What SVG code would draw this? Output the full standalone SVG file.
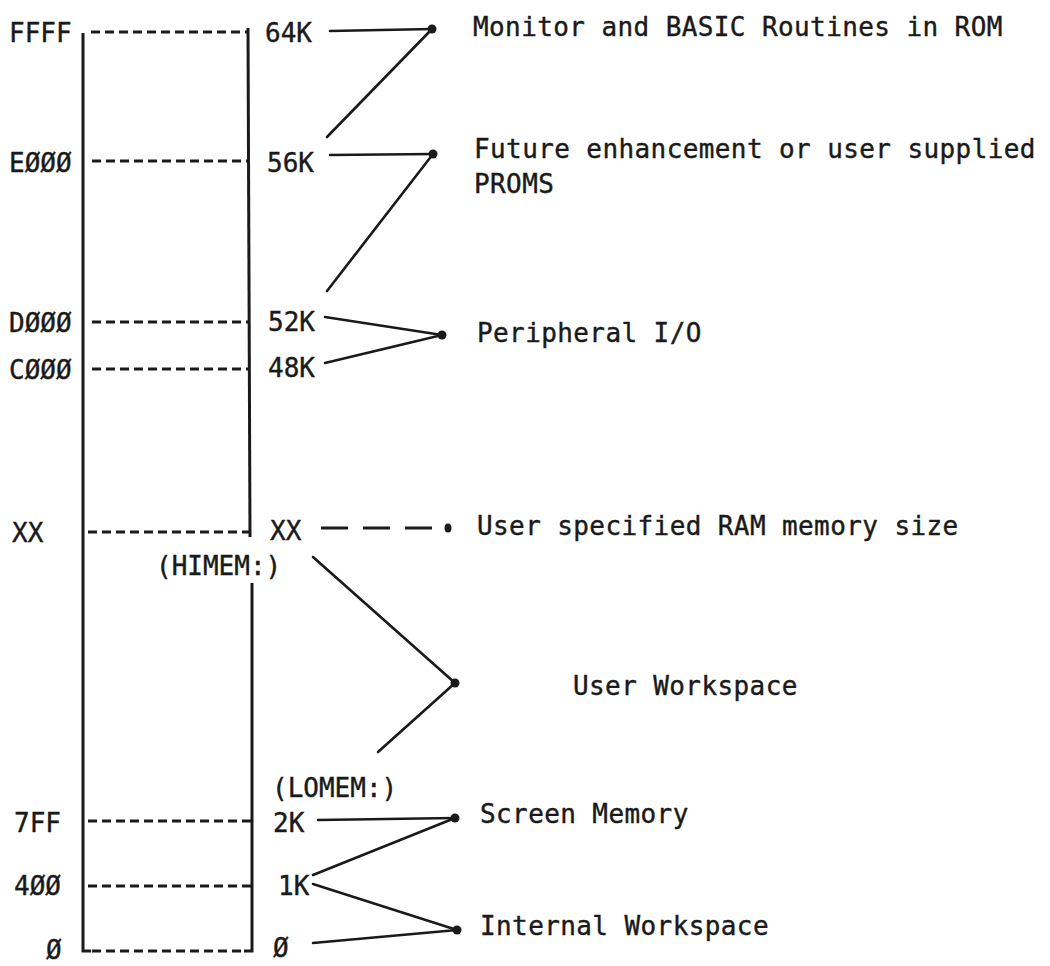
<svg xmlns="http://www.w3.org/2000/svg" width="1050" height="966" viewBox="0 0 1050 966">
<style>
text{font-family:"DejaVu Sans Mono","Liberation Mono",monospace;font-size:26px;fill:#1a1a1a;stroke:#1a1a1a;stroke-width:0.4}
.lab{letter-spacing:0.4px}
.box{stroke:#1a1a1a;stroke-width:3;fill:none}
.dash{stroke:#1a1a1a;stroke-width:3;stroke-dasharray:9 5;fill:none}
.con{stroke:#1a1a1a;stroke-width:2.6;fill:none;stroke-linecap:round}
.ldash{stroke:#1a1a1a;stroke-width:3;stroke-dasharray:27 15;fill:none}
.dot{fill:#1a1a1a}
</style>
<rect width="1050" height="966" fill="#ffffff"/>
<g id="memory-box">
<path class="box" d="M83,33 L83,951 L91,951"/>
<path class="box" d="M248,28 L250,537"/>
<path class="box" d="M252,583 L252,951 L244,951"/>
</g>
<g id="row-ffff">
<text x="9" y="42">FFFF</text>
<line class="dash" x1="91" y1="32" x2="248" y2="32"/>
<text x="265" y="42">64K</text>
</g>
<g id="row-e000">
<text x="9" y="172">EØØØ</text>
<line class="dash" x1="92" y1="161" x2="248" y2="161"/>
<text x="267" y="172">56K</text>
</g>
<g id="row-d000">
<text x="9" y="332">DØØØ</text>
<line class="dash" x1="92" y1="322" x2="248" y2="322"/>
<text x="268" y="331">52K</text>
</g>
<g id="row-c000">
<text x="9" y="379">CØØØ</text>
<line class="dash" x1="92" y1="369" x2="248" y2="369"/>
<text x="268" y="377">48K</text>
</g>
<g id="row-xx">
<text x="12" y="542">XX</text>
<line class="dash" x1="88" y1="532" x2="250" y2="532"/>
<text x="270" y="540">XX</text>
<text x="156" y="575">(HIMEM:)</text>
</g>
<g id="row-lomem">
<text x="272" y="797">(LOMEM:)</text>
</g>
<g id="row-7ff">
<text x="14" y="832">7FF</text>
<line class="dash" x1="88" y1="821" x2="252" y2="821"/>
<text x="273" y="832">2K</text>
</g>
<g id="row-400">
<text x="14" y="895">4ØØ</text>
<line class="dash" x1="88" y1="886" x2="252" y2="886"/>
<text x="278" y="895">1K</text>
</g>
<g id="row-0">
<text x="46" y="959">Ø</text>
<line class="dash" x1="92" y1="951" x2="244" y2="951"/>
<text x="273" y="957">Ø</text>
</g>
<g id="label-rom"><text class="lab" x="473" y="36">Monitor and BASIC Routines in ROM</text></g>
<g id="label-proms"><text class="lab" x="474" y="158">Future enhancement or user supplied</text><text class="lab" x="474" y="193">PROMS</text></g>
<g id="label-io"><text class="lab" x="477" y="342">Peripheral I/O</text></g>
<g id="label-ram"><text class="lab" x="477" y="535">User specified RAM memory size</text></g>
<g id="label-user"><text class="lab" x="573" y="695">User Workspace</text></g>
<g id="label-screen"><text class="lab" x="480" y="823">Screen Memory</text></g>
<g id="label-internal"><text class="lab" x="480" y="935">Internal Workspace</text></g>
<g id="connectors">
<line class="con" x1="330" y1="31" x2="432" y2="29"/>
<line class="con" x1="432" y1="29" x2="327" y2="137"/>
<circle class="dot" cx="432" cy="29" r="4.5"/>
<line class="con" x1="330" y1="155" x2="433" y2="154"/>
<line class="con" x1="433" y1="154" x2="327" y2="291"/>
<circle class="dot" cx="433" cy="154" r="4.5"/>
<line class="con" x1="325" y1="317" x2="442" y2="335"/>
<line class="con" x1="325" y1="363" x2="442" y2="335"/>
<circle class="dot" cx="442" cy="335" r="4.5"/>
<line class="ldash" x1="321" y1="528" x2="432" y2="528"/>
<ellipse class="dot" cx="448" cy="528" rx="3.5" ry="4.5"/>
<line class="con" x1="313" y1="557" x2="455" y2="683"/>
<line class="con" x1="455" y1="683" x2="378" y2="752"/>
<circle class="dot" cx="455" cy="683" r="4.5"/>
<line class="con" x1="318" y1="820" x2="455" y2="818"/>
<line class="con" x1="313" y1="875" x2="455" y2="818"/>
<circle class="dot" cx="455" cy="818" r="4.5"/>
<line class="con" x1="313" y1="884" x2="457" y2="930"/>
<line class="con" x1="313" y1="943" x2="457" y2="930"/>
<circle class="dot" cx="457" cy="930" r="4.5"/>
</g>
</svg>
